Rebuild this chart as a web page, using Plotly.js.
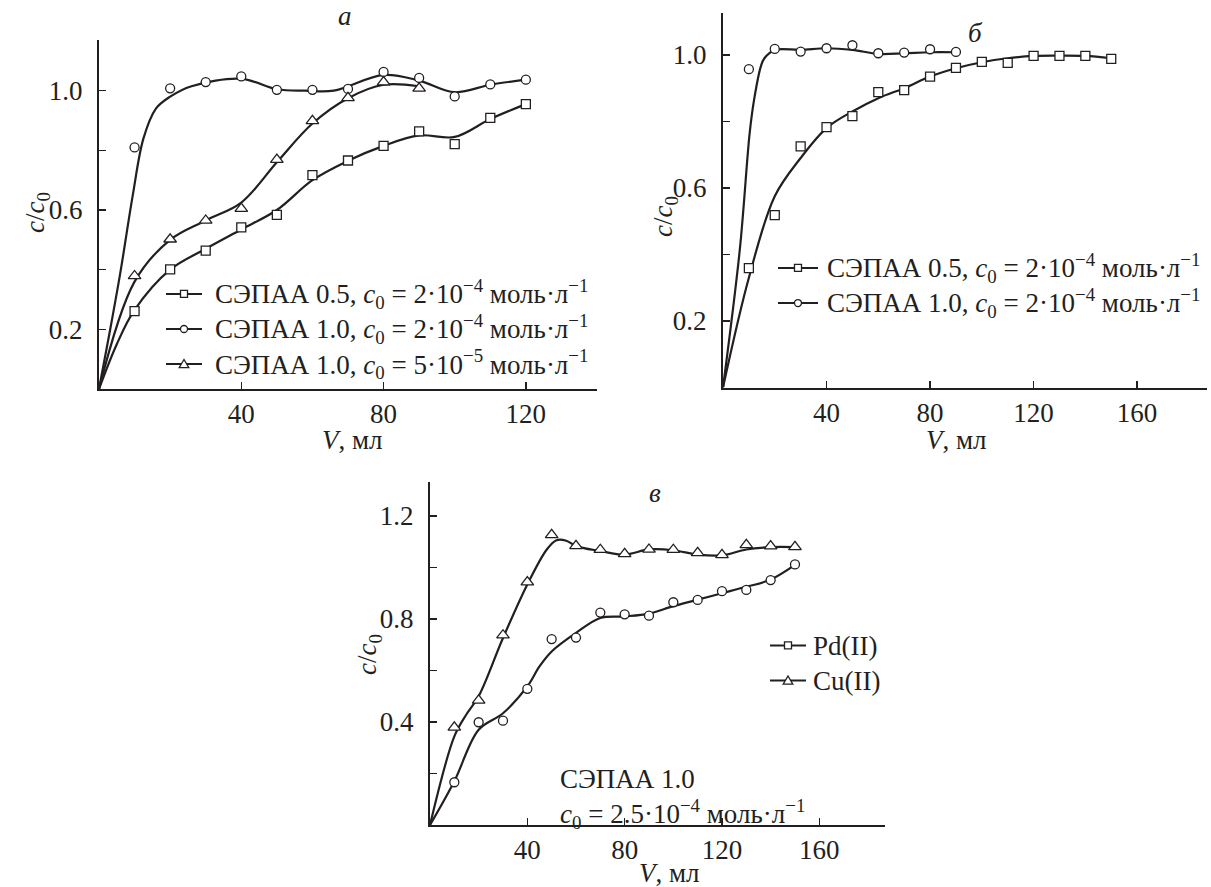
<!DOCTYPE html>
<html><head><meta charset="utf-8">
<script src="https://cdn.plot.ly/plotly-3.0.1.min.js"></script>
<style>html,body{margin:0;padding:0;background:#fff;}#chart{width:1211px;height:887px;}</style>
</head><body><div id="chart"></div>
<script>
// ---------- Panel а ----------
const aX = [10, 20, 30, 40, 50, 60, 70, 80, 90, 100, 110, 120];
const aSq = [0.261, 0.401, 0.464, 0.542, 0.584, 0.717, 0.766, 0.815, 0.864, 0.821, 0.909, 0.955];
const aCirc = [0.81, 1.008, 1.029, 1.048, 1.003, 1.003, 1.006, 1.063, 1.043, 0.981, 1.021, 1.037];
const aTriX = [10, 20, 30, 40, 50, 60, 70, 80, 90];
const aTri = [0.379, 0.502, 0.565, 0.605, 0.769, 0.899, 0.976, 1.029, 1.008];
// fitted curves
const aFitSqX = [0, 5, 10, 20, 30, 40, 50, 60, 70, 80, 90, 100, 110, 120];
const aFitSq = [0, 0.15, 0.265, 0.40, 0.47, 0.535, 0.60, 0.70, 0.765, 0.815, 0.85, 0.845, 0.905, 0.955];
const aFitCircX = [0, 3, 6, 9.5, 12.5, 16, 20, 26, 40, 50, 58, 66, 80, 90, 100, 110, 120];
const aFitCirc = [0, 0.19, 0.39, 0.65, 0.84, 0.94, 0.98, 1.015, 1.04, 1.005, 1.0, 1.0, 1.053, 1.034, 0.995, 1.02, 1.037];
const aFitTriX = [0, 10, 20, 30, 40, 50, 60, 70, 80, 90];
const aFitTri = [0, 0.36, 0.50, 0.565, 0.625, 0.76, 0.89, 0.975, 1.02, 1.015];
const aNames = [
  'СЭПАА 0.5, <i>c</i><sub>0</sub> = 2·10<sup>−4</sup> моль·л<sup>−1</sup>',
  'СЭПАА 1.0, <i>c</i><sub>0</sub> = 2·10<sup>−4</sup> моль·л<sup>−1</sup>',
  'СЭПАА 1.0, <i>c</i><sub>0</sub> = 5·10<sup>−5</sup> моль·л<sup>−1</sup>'
];

// ---------- Panel б ----------
const bSqX = [10, 20, 30, 40, 50, 60, 70, 80, 90, 100, 110, 120, 130, 140, 150];
const bSq = [0.359, 0.518, 0.725, 0.783, 0.816, 0.888, 0.894, 0.935, 0.961, 0.979, 0.976, 0.997, 0.997, 0.997, 0.988];
const bCircX = [10, 20, 30, 40, 50, 60, 70, 80, 90];
const bCirc = [0.957, 1.018, 1.01, 1.02, 1.029, 1.005, 1.007, 1.017, 1.009];
const bFitSqX = [0, 10, 20, 30, 40, 50, 60, 70, 80, 90, 100, 110, 120, 130, 140, 150];
const bFitSq = [0, 0.33, 0.575, 0.69, 0.78, 0.83, 0.87, 0.90, 0.935, 0.96, 0.978, 0.99, 0.997, 0.998, 0.997, 0.99];
const bFitCircX = [0, 6.5, 10.3, 12, 14.6, 16, 20, 30, 40, 50, 60, 70, 80, 90];
const bFitCirc = [0, 0.415, 0.765, 0.865, 0.965, 0.99, 1.015, 1.015, 1.02, 1.015, 1.003, 1.005, 1.008, 1.008];
const bNames = [
  'СЭПАА 0.5, <i>c</i><sub>0</sub> = 2·10<sup>−4</sup> моль·л<sup>−1</sup>',
  'СЭПАА 1.0, <i>c</i><sub>0</sub> = 2·10<sup>−4</sup> моль·л<sup>−1</sup>'
];

// ---------- Panel в ----------
const cX = [10, 20, 30, 40, 50, 60, 70, 80, 90, 100, 110, 120, 130, 140, 150];
const cCu = [0.379, 0.484, 0.737, 0.943, 1.127, 1.084, 1.069, 1.053, 1.07, 1.069, 1.057, 1.049, 1.088, 1.083, 1.08];
const cPd = [0.166, 0.399, 0.405, 0.529, 0.722, 0.728, 0.825, 0.818, 0.813, 0.865, 0.874, 0.908, 0.913, 0.951, 1.012];
const cFitCuX = [0, 10, 15, 20, 30, 40, 48, 52, 56, 60, 70, 80, 90, 100, 110, 120, 130, 140, 150];
const cFitCu = [0, 0.344, 0.43, 0.50, 0.726, 0.934, 1.07, 1.106, 1.104, 1.083, 1.064, 1.05, 1.07, 1.067, 1.05, 1.047, 1.07, 1.079, 1.079];
const cFitPdX = [0, 10, 20, 30, 40, 45, 50, 60, 70, 80, 90, 100, 110, 120, 130, 140, 150];
const cFitPd = [0, 0.17, 0.37, 0.434, 0.538, 0.616, 0.674, 0.746, 0.804, 0.81, 0.821, 0.85, 0.875, 0.90, 0.925, 0.953, 1.01];
const cNames = ['Pd(II)', 'Cu(II)'];
const cNote = ['СЭПАА 1.0', '<i>c</i><sub>0</sub> = 2.5·10<sup>−4</sup> моль·л<sup>−1</sup>'];

// tick labels
const aXTicks = [40, 80, 120], aXText = ['40', '80', '120'];
const bXTicks = [40, 80, 120, 160], bXText = ['40', '80', '120', '160'];
const yTicksA = [0.2, 0.6, 1.0], yTextA = ['0.2', '0.6', '1.0'];
const yTicksC = [0.4, 0.8, 1.2], yTextC = ['0.4', '0.8', '1.2'];

const INK = '#231f20';
const FONT = 'Liberation Serif, Times New Roman, serif';
const FS = 27;
const TFS = 27;
const W = 1211, H = 887;
const px = v => v / W, py = v => 1 - v / H;

function fit(x, y, xa, ya) {
  return {x, y, xaxis: xa, yaxis: ya, mode: 'lines', line: {color: INK, width: 2.2, shape: 'spline', smoothing: 1}, showlegend: false, hoverinfo: 'skip'};
}
const SIZES = {square: 9, circle: 9, 'triangle-up': 11};
function pts(x, y, xa, ya, sym, name) {
  return {x, y, xaxis: xa, yaxis: ya, name, mode: 'markers', showlegend: false,
    marker: {symbol: sym, size: SIZES[sym], color: '#fff', line: {color: INK, width: 1.3}}};
}

const traces = [
  fit(aFitSqX, aFitSq, 'x', 'y'), fit(aFitCircX, aFitCirc, 'x', 'y'), fit(aFitTriX, aFitTri, 'x', 'y'),
  pts(aX, aSq, 'x', 'y', 'square', aNames[0]), pts(aX, aCirc, 'x', 'y', 'circle', aNames[1]), pts(aTriX, aTri, 'x', 'y', 'triangle-up', aNames[2]),
  fit(bFitSqX, bFitSq, 'x2', 'y2'), fit(bFitCircX, bFitCirc, 'x2', 'y2'),
  pts(bSqX, bSq, 'x2', 'y2', 'square', bNames[0]), pts(bCircX, bCirc, 'x2', 'y2', 'circle', bNames[1]),
  fit(cFitCuX, cFitCu, 'x3', 'y3'), fit(cFitPdX, cFitPd, 'x3', 'y3'),
  pts(cX, cCu, 'x3', 'y3', 'triangle-up', cNames[1]), pts(cX, cPd, 'x3', 'y3', 'circle', cNames[0])
];

const tickStyle = {ticks: 'inside', ticklen: 7, tickwidth: 1.5, tickcolor: INK};
function xax(dom, range, tv, tt, anchor) {
  return Object.assign({domain: dom, range, anchor, showline: true, linecolor: INK, linewidth: 2,
    tickvals: tv, ticktext: tt, showgrid: false, zeroline: false, tickfont: {family: FONT, size: TFS, color: INK}, fixedrange: true}, tickStyle);
}
function yax(dom, range, tv, tt, anchor) {
  return Object.assign({domain: dom, range, anchor, showline: true, linecolor: INK, linewidth: 2,
    tickvals: tv, ticktext: tt, showgrid: false, zeroline: false, tickfont: {family: FONT, size: TFS, color: INK}, ticklabelstandoff: 9, fixedrange: true,
    minor: {tick0: 0, dtick: 0.2, ticks: 'inside', ticklen: 7, tickwidth: 1.5, tickcolor: INK, showgrid: false}}, tickStyle);
}

function ann(text, x, y, opts) {
  return Object.assign({text, x: px(x), y: py(y), xref: 'paper', yref: 'paper', showarrow: false,
    xanchor: 'center', yanchor: 'middle', font: {family: FONT, size: FS, color: INK}}, opts || {});
}
const ytitle = '<i>c</i>/<i>c</i><sub>0</sub>';
const xtitle = '<i>V</i>, мл';

// hand-drawn legends (symbol shapes + one multi-line text block each)
const LINE_H = FS * 1.3;
const shapes = [];
const legendAnns = [];
function legendBlock(names, syms, lx0, lx1, tx, yc) {
  const n = names.length;
  names.forEach((nm, i) => {
    const y = yc + (i - (n - 1) / 2) * LINE_H;
    const cx = (lx0 + lx1) / 2;
    shapes.push({type: 'line', xref: 'paper', yref: 'paper', x0: px(lx0), x1: px(lx1), y0: py(y), y1: py(y), line: {color: INK, width: 2}});
    const s = syms[i], r = 3.5;
    const base = {xref: 'paper', yref: 'paper', fillcolor: '#fff', line: {color: INK, width: 1.3}};
    if (s === 'square') shapes.push(Object.assign({type: 'rect', x0: px(cx - r), x1: px(cx + r), y0: py(y + r), y1: py(y - r)}, base));
    else if (s === 'circle') shapes.push(Object.assign({type: 'circle', x0: px(cx - r), x1: px(cx + r), y0: py(y + r), y1: py(y - r)}, base));
    else shapes.push(Object.assign({type: 'path', path: `M ${px(cx - 4.8)},${py(y + 3.6)} L ${px(cx + 4.8)},${py(y + 3.6)} L ${px(cx)},${py(y - 4.6)} Z`}, base));
  });
  legendAnns.push(ann(names.join('<br>'), tx, yc, {xanchor: 'left', align: 'left'}));
}
legendBlock(aNames, ['square', 'circle', 'triangle-up'], 166, 202, 213, 329);
legendBlock(bNames, ['square', 'circle'], 778, 818, 825, 285.5);
legendBlock(cNames, ['square', 'triangle-up'], 770, 806, 811, 663);

const layout = {
  width: W, height: H, margin: {l: 0, r: 0, t: 0, b: 0},
  paper_bgcolor: '#fff', plot_bgcolor: 'rgba(0,0,0,0)', showlegend: false,
  xaxis: xax([px(99), px(597)], [0, 140], aXTicks, aXText, 'y'),
  yaxis: yax([py(389), py(40)], [0, 1.17], yTicksA, yTextA, 'x'),
  xaxis2: xax([px(723), px(1207)], [0, 187], bXTicks, bXText, 'y2'),
  yaxis2: yax([py(387.5), py(13)], [0, 1.126], yTicksA, yTextA, 'x2'),
  xaxis3: xax([px(430), px(885)], [0, 187], bXTicks, bXText, 'y3'),
  yaxis3: yax([py(825), py(482)], [0, 1.332], yTicksC, yTextC, 'x3'),
  shapes,
  annotations: [
    ann('<i>а</i>', 345, 16),
    ann('<i>б</i>', 975, 33),
    ann('<i>в</i>', 655, 493),
    ann(ytitle, 37, 213, {textangle: -90}),
    ann(ytitle, 665, 217, {textangle: -90}),
    ann(ytitle, 369, 655, {textangle: -90}),
    ann(xtitle, 352, 440),
    ann(xtitle, 956, 440),
    ann(xtitle, 637, 873, {xanchor: 'left'}),
    ann(cNote.join('<br>'), 558, 798, {xanchor: 'left', align: 'left'})
  ].concat(legendAnns)
};

Plotly.newPlot('chart', traces, layout, {staticPlot: true});
</script>
</body></html>
